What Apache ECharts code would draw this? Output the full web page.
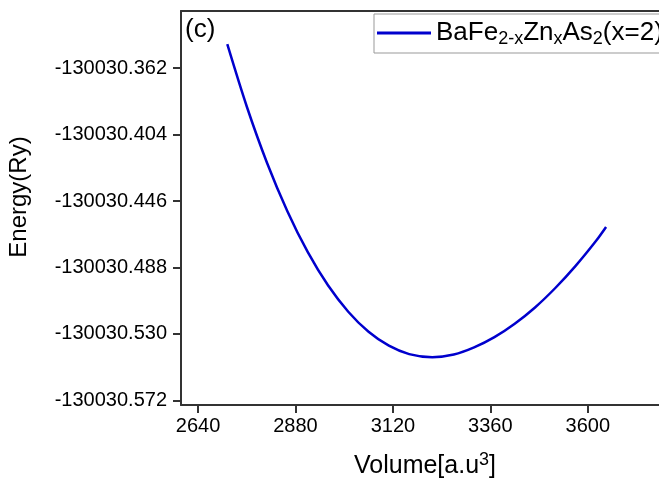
<!DOCTYPE html>
<html>
<head>
<meta charset="utf-8">
<script src="https://cdn.jsdelivr.net/npm/echarts@6/dist/echarts.min.js"></script>
<style>html,body{margin:0;padding:0;background:#fff}#c{width:659px;height:479px}</style>
</head>
<body>
<div id="c"></div>
<script>
// Data
var volume = [2712, 2760, 2810, 2860, 2910, 2960, 3010, 3060, 3110, 3160, 3217, 3270, 3320, 3370, 3420, 3470, 3520, 3570, 3620, 3645];
var energy = [-130030.3468, -130030.3862, -130030.4219, -130030.4524, -130030.4782, -130030.4993, -130030.5160, -130030.5287, -130030.5375, -130030.5428, -130030.5448, -130030.5431, -130030.5386, -130030.5321, -130030.5236, -130030.5133, -130030.5010, -130030.4870, -130030.4713, -130030.4624];
var xTicks = [2640, 2880, 3120, 3360, 3600];
var yTicks = [-130030.572, -130030.530, -130030.488, -130030.446, -130030.404, -130030.362];
var seriesName = 'BaFe2-xZnxAs2(x=2)';

var FONT = 'Liberation Sans';
var AX = '#333333';
var pts = volume.map(function (v, i) { return [v, energy[i]]; });

var chart = echarts.init(document.getElementById('c'), null, {renderer: 'canvas'});
chart.setOption({
  animation: false,
  backgroundColor: '#ffffff',
  grid: {left: 181, top: 11, right: -10, bottom: 74, show: false, containLabel: false, outerBoundsMode: 'none'},
  legend: {
    left: 374, top: 14, padding: [6, 6, 5, 3],
    borderColor: '#999999', borderWidth: 1, backgroundColor: '#ffffff',
    itemWidth: 54, itemHeight: 3,
    formatter: function () {
      return '{n|BaFe}{s|2-x}{n|Zn}{s|x}{n|As}{s|2}{n|(x=2)}';
    },
    textStyle: {
      color: '#000', fontFamily: FONT,
      rich: {
        n: {fontSize: 26, lineHeight: 30, verticalAlign: 'middle', fontFamily: FONT, color: '#000'},
        s: {fontSize: 18, lineHeight: 12, verticalAlign: 'bottom', fontFamily: FONT, color: '#000'}
      }
    },
    data: [{name: seriesName, icon: 'rect', itemStyle: {color: '#0000cd'}}]
  },
  xAxis: [{
    type: 'value', min: 2598, max: 3800, position: 'bottom',
    name: '{n|Volume[a.u}{sup|3}{n|]}', nameLocation: 'middle', nameGap: 46,
    nameTextStyle: {
      fontFamily: FONT, color: '#000',
      rich: {
        n: {fontSize: 25, lineHeight: 30, verticalAlign: 'middle', fontFamily: FONT, color: '#000'},
        sup: {fontSize: 18, lineHeight: 16, verticalAlign: 'top', fontFamily: FONT, color: '#000'}
      }
    },
    axisLine: {show: true, onZero: false, lineStyle: {color: AX, width: 2}},
    axisTick: {show: true, length: 8, customValues: xTicks, lineStyle: {color: AX, width: 2}},
    axisLabel: {show: true, customValues: xTicks, margin: 11, fontSize: 20, color: '#000', fontFamily: FONT, formatter: function (v) { return String(Math.round(v)); }},
    splitLine: {show: false}, minorTick: {show: false}
  }, {
    type: 'value', min: 2598, max: 3800, position: 'top',
    axisLine: {show: true, onZero: false, lineStyle: {color: AX, width: 2}},
    axisTick: {show: false}, axisLabel: {show: false}, splitLine: {show: false}
  }],
  yAxis: {
    type: 'value', min: -130030.575, max: -130030.3258,
    name: 'Energy(Ry)', nameLocation: 'middle', nameGap: 150, nameRotate: 90,
    nameTextStyle: {fontSize: 24, color: '#000', fontFamily: FONT, padding: [0, 0, 0, 22]},
    axisLine: {show: true, onZero: false, lineStyle: {color: AX, width: 2}},
    axisTick: {show: true, length: 8, customValues: yTicks, lineStyle: {color: AX, width: 2}},
    axisLabel: {show: true, customValues: yTicks, margin: 14, fontSize: 20, color: '#000', fontFamily: FONT, formatter: function (v) { return v.toFixed(3); }},
    splitLine: {show: false}
  },
  graphic: [{
    type: 'text', left: 185, top: 17,
    style: {text: '(c)', fontSize: 26, fontFamily: FONT, fill: '#000'}
  }],
  series: [{
    name: seriesName, type: 'line', data: pts,
    showSymbol: false, symbol: 'none', smooth: 0.3,
    lineStyle: {color: '#0000cd', width: 2.5}
  }]
});
</script>
</body>
</html>
